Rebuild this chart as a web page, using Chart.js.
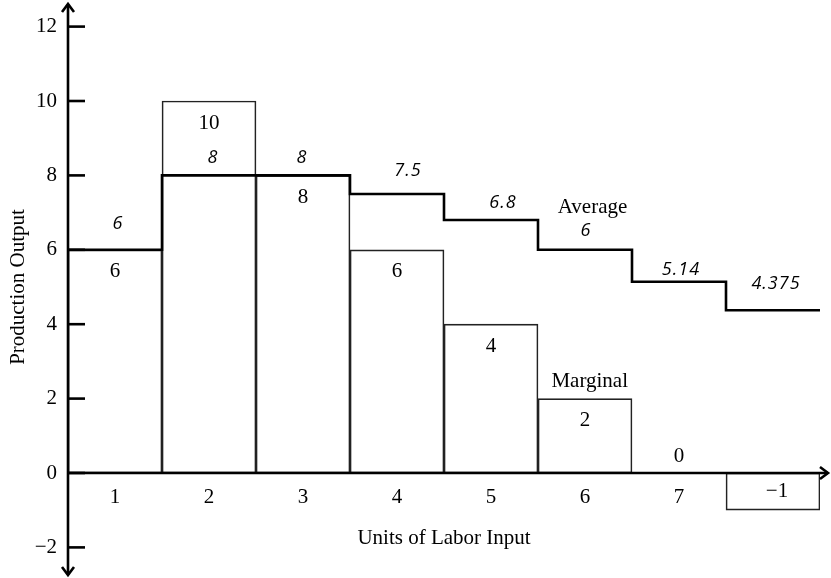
<!DOCTYPE html>
<html><head><meta charset="utf-8">
<script src="https://cdn.jsdelivr.net/npm/chart.js@4"></script>
<style>html,body{margin:0;padding:0;background:#fff}</style>
</head><body>
<canvas id="c" width="831" height="578"></canvas>
<script>
// ---- data ----
const laborUnits = [1, 2, 3, 4, 5, 6, 7, 8];
const marginalProduct = [6, 10, 8, 6, 4, 2, 0, -1];
const averageProduct = [6, 8, 8, 7.5, 6.8, 6, 5.14, 4.375];
const averageLabels = ['6', '8', '8', '7.5', '6.8', '6', '5.14', '4.375'];
const xTickValues = [1, 2, 3, 4, 5, 6, 7];
const yTickValues = [-2, 0, 2, 4, 6, 8, 10, 12];
const xAxisTitle = 'Units of Labor Input';
const yAxisTitle = 'Production Output';
const averageName = 'Average';
const marginalName = 'Marginal';

const SERIF = '"Liberation Serif", "Times New Roman", serif';
const SANS = '"Open Sans", "Noto Sans", sans-serif';
const fmt = v => (v < 0 ? '\u2212' + Math.abs(v) : String(v));

// step line points at unit boundaries
const avgPoints = averageProduct.map((v, i) => ({ x: laborUnits[i] - 0.5, y: v }));
avgPoints.push({ x: laborUnits[laborUnits.length - 1] + 0.5, y: averageProduct[averageProduct.length - 1] });

// small per-label nudges (pixels) for the average labels, matching the hand placement
const avgNudge = [[2, -26], [3, -18], [-2, -18], [10, -23], [11, -17], [0, -19], [1, -12], [2, -26]];

const annot = {
  id: 'annot',
  afterDatasetsDraw(chart) {
    const { ctx, scales: { x, y } } = chart;
    const x0 = x.getPixelForValue(0.5);
    const y0 = y.getPixelForValue(0);
    ctx.save();
    ctx.strokeStyle = '#000';
    ctx.lineWidth = 2.6;
    ctx.lineCap = 'butt';
    // y axis
    ctx.beginPath(); ctx.moveTo(x0, 4); ctx.lineTo(x0, 575); ctx.stroke();
    // x axis
    ctx.beginPath(); ctx.moveTo(x0, y0); ctx.lineTo(828, y0); ctx.stroke();
    // arrow heads
    ctx.lineJoin = 'miter';
    ctx.beginPath(); ctx.moveTo(x0 - 6, 12); ctx.lineTo(x0, 4); ctx.lineTo(x0 + 6, 12); ctx.stroke();
    ctx.beginPath(); ctx.moveTo(x0 - 6, 567); ctx.lineTo(x0, 575); ctx.lineTo(x0 + 6, 567); ctx.stroke();
    ctx.beginPath(); ctx.moveTo(820, y0 - 6); ctx.lineTo(828, y0); ctx.lineTo(820, y0 + 6); ctx.stroke();
    // y tick marks (inside)
    yTickValues.forEach(v => {
      const py = y.getPixelForValue(v);
      ctx.beginPath(); ctx.moveTo(x0, py); ctx.lineTo(x0 + 17, py); ctx.stroke();
    });
    // marginal labels
    ctx.fillStyle = '#000';
    ctx.font = '21px ' + SERIF;
    ctx.textAlign = 'center';
    ctx.textBaseline = 'middle';
    marginalProduct.forEach((v, i) => {
      const px = x.getPixelForValue(laborUnits[i]);
      let py;
      if (v > 0) py = y.getPixelForValue(v) + 22;
      else if (v === 0) py = y0 - 17;
      else py = (y.getPixelForValue(v) + y0) / 2;
      ctx.fillText(fmt(v), px + (v < 0 ? 4 : 0), py);
    });
    // series names
    ctx.fillText(averageName, x.getPixelForValue(6.08), y.getPixelForValue(6) - 42);
    ctx.fillText(marginalName, x.getPixelForValue(6.05), y.getPixelForValue(2) - 17);
    // average labels
    ctx.font = 'italic 18px ' + SANS;
    ctx.letterSpacing = '1px';
    averageProduct.forEach((v, i) => {
      const px = x.getPixelForValue(laborUnits[i]) + avgNudge[i][0] + 1;
      const py = y.getPixelForValue(v) + avgNudge[i][1];
      ctx.fillText(averageLabels[i], px, py);
    });
    ctx.restore();
  }
};

const zeroPad = s => { s.paddingTop = 0; s.paddingBottom = 0; s.paddingLeft = 0; s.paddingRight = 0; };

new Chart(document.getElementById('c'), {
  data: {
    datasets: [
      {
        type: 'line', label: averageName, data: avgPoints, stepped: 'before',
        borderColor: '#000', borderWidth: 2.6, pointRadius: 0, fill: false, order: 0
      },
      {
        type: 'bar', label: marginalName,
        data: laborUnits.map((u, i) => ({ x: u, y: marginalProduct[i] })),
        backgroundColor: 'rgba(255,255,255,0)', borderColor: '#222', borderWidth: 1,
        borderSkipped: false, barPercentage: 1, categoryPercentage: 1, order: 1
      }
    ]
  },
  options: {
    responsive: false,
    animation: false,
    devicePixelRatio: 1,
    layout: { padding: { top: 8, right: 11, bottom: 12, left: 0 } },
    plugins: { legend: { display: false }, tooltip: { enabled: false } },
    scales: {
      x: {
        type: 'linear', min: 0.5, max: 8.5, offset: false, position: { y: 0 },
        afterBuildTicks: s => { s.ticks = xTickValues.map(v => ({ value: v })); },
        afterFit: zeroPad,
        grid: { display: false, drawTicks: false, offset: false }, border: { display: false },
        ticks: { color: '#000', font: { family: SERIF, size: 21 }, padding: 12, maxRotation: 0, autoSkip: false },
        title: { display: true, text: xAxisTitle, color: '#000', font: { family: SERIF, size: 21 }, padding: { top: 4, bottom: 0 } }
      },
      y: {
        type: 'linear', min: -2.5, max: 12.5, position: 'left',
        afterBuildTicks: s => { s.ticks = yTickValues.map(v => ({ value: v })); },
        afterFit: s => { s.width = 68; zeroPad(s); },
        grid: { display: false, drawTicks: false }, border: { display: false },
        ticks: { color: '#000', font: { family: SERIF, size: 21 }, padding: 11, callback: v => fmt(v) },
        title: { display: true, text: yAxisTitle, color: '#000', font: { family: SERIF, size: 21 }, padding: { top: 6, bottom: 0 } }
      }
    }
  },
  plugins: [annot]
});
</script>
</body></html>
